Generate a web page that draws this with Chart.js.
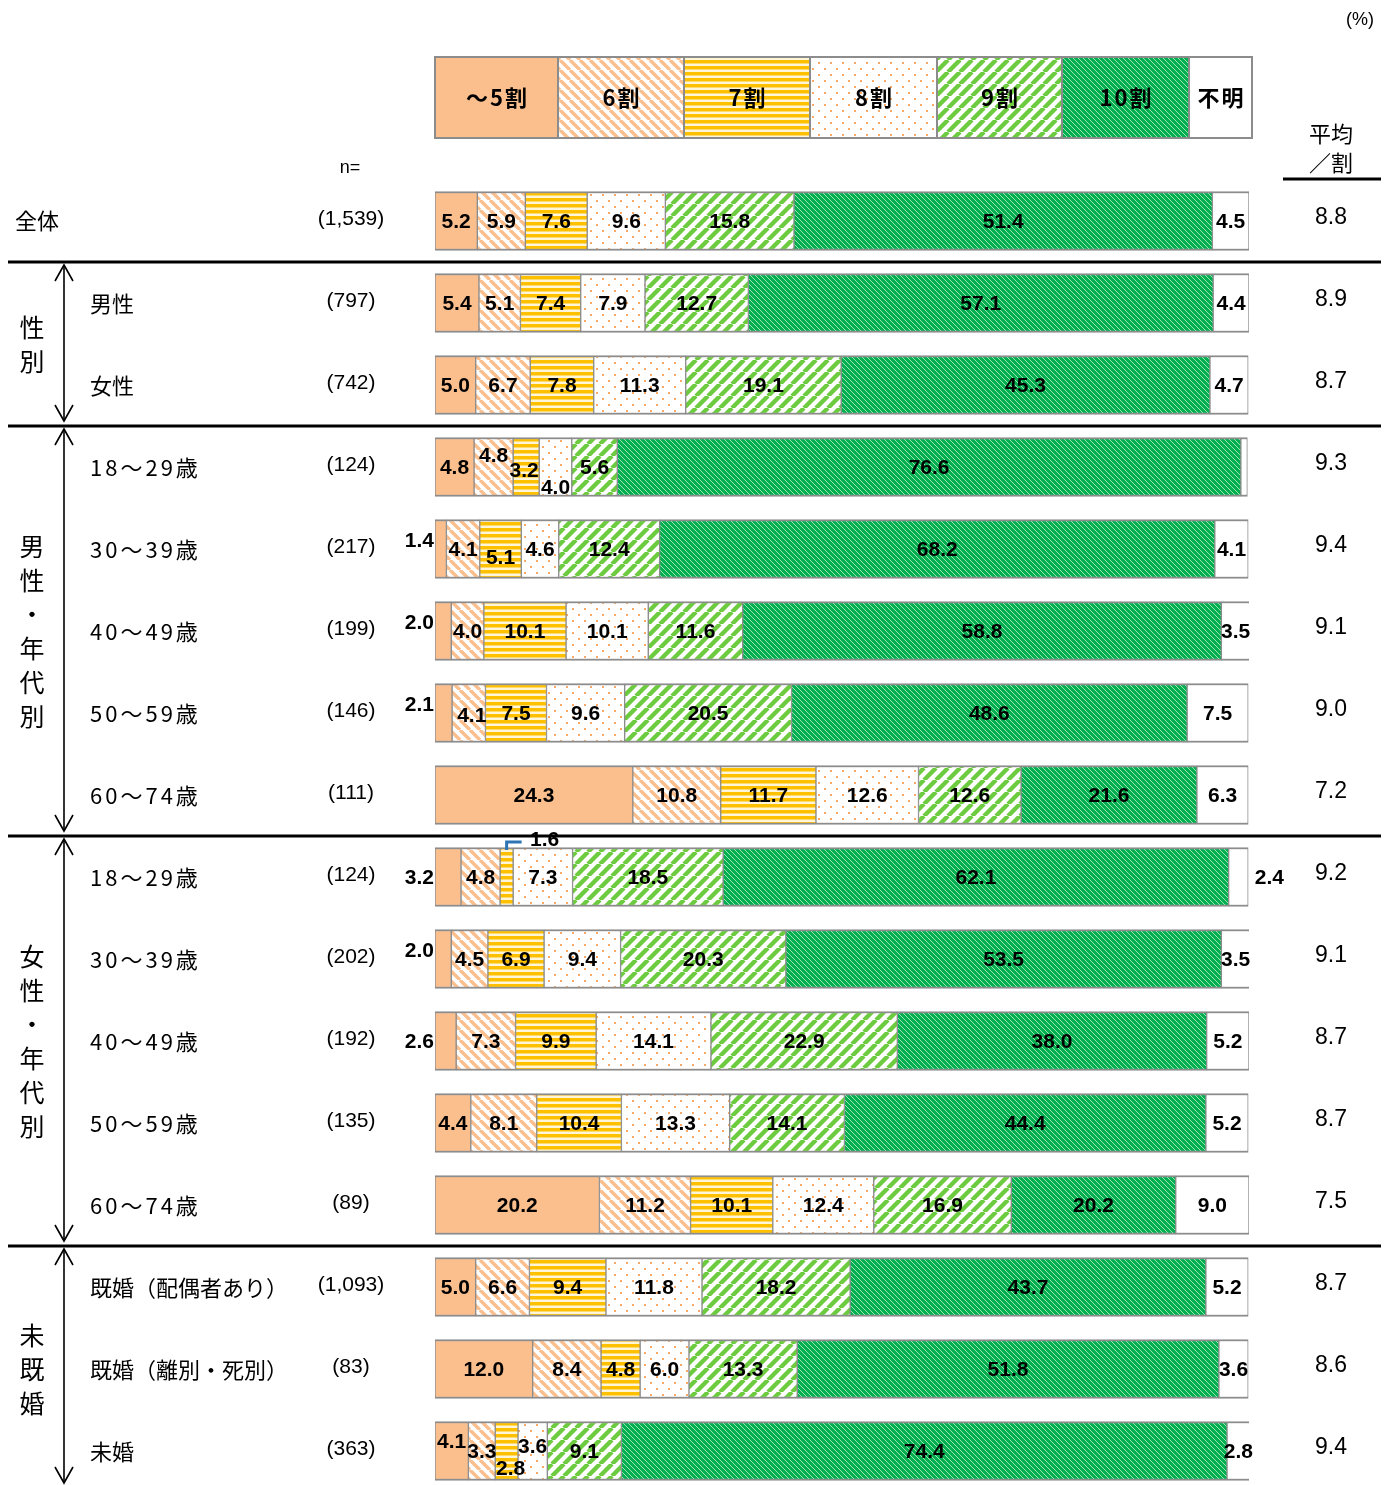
<!DOCTYPE html>
<html><head><meta charset="utf-8">
<script src="https://cdn.jsdelivr.net/npm/chart.js@4"></script>
<style>html,body{margin:0;padding:0;background:#fff;overflow:hidden;width:1392px;height:1485px}canvas{display:block}</style>
</head><body><canvas id="c" width="1392" height="1500"></canvas>
<script>
const categories = ['～5割','6割','7割','8割','9割','10割','不明'];
const rowLabels = ['全体','男性','女性','18～29歳','30～39歳','40～49歳','50～59歳','60～74歳','18～29歳','30～39歳','40～49歳','50～59歳','60～74歳','既婚（配偶者あり）','既婚（離別・死別）','未婚'];
const nLabels = ['(1,539)','(797)','(742)','(124)','(217)','(199)','(146)','(111)','(124)','(202)','(192)','(135)','(89)','(1,093)','(83)','(363)'];
const avgValues = ['8.8','8.9','8.7','9.3','9.4','9.1','9.0','7.2','9.2','9.1','8.7','8.7','7.5','8.7','8.6','9.4'];
const groupNames = ['性別','男性・年代別','女性・年代別','未既婚'];
const groupRows = [[1,2],[3,7],[8,12],[13,15]];

const seriesLe5  = [5.2,5.4,5.0,4.8,1.4,2.0,2.1,24.3,3.2,2.0,2.6,4.4,20.2,5.0,12.0,4.1];
const series6    = [5.9,5.1,6.7,4.8,4.1,4.0,4.1,10.8,4.8,4.5,7.3,8.1,11.2,6.6,8.4,3.3];
const series7    = [7.6,7.4,7.8,3.2,5.1,10.1,7.5,11.7,1.6,6.9,9.9,10.4,10.1,9.4,4.8,2.8];
const series8    = [9.6,7.9,11.3,4.0,4.6,10.1,9.6,12.6,7.3,9.4,14.1,13.3,12.4,11.8,6.0,3.6];
const series9    = [15.8,12.7,19.1,5.6,12.4,11.6,20.5,12.6,18.5,20.3,22.9,14.1,16.9,18.2,13.3,9.1];
const series10   = [51.4,57.1,45.3,76.6,68.2,58.8,48.6,21.6,62.1,53.5,38.0,44.4,20.2,43.7,51.8,74.4];
const seriesUnk  = [4.5,4.4,4.7,0.8,4.1,3.5,7.5,6.3,2.4,3.5,5.2,5.2,9.0,5.2,3.6,2.8];
const allSeries = [seriesLe5,series6,series7,series8,series9,series10,seriesUnk];

const canvas = document.getElementById('c');
const ctx = canvas.getContext('2d');

function mkPattern(w,h,draw){
  const c=document.createElement('canvas');c.width=w;c.height=h;
  const g=c.getContext('2d');draw(g,w,h);
  return ctx.createPattern(c,'repeat');
}
function diag(g,s,color,lw,dir){
  g.strokeStyle=color;g.lineWidth=lw;g.beginPath();
  for(const k of [-s,0,s]){
    if(dir==='\\'){g.moveTo(k,0);g.lineTo(k+s,s);}
    else{g.moveTo(k,s);g.lineTo(k+s,0);}
  }
  g.stroke();
}
const PEACH='#FBBF8E';
const patterns = [
  PEACH,
  mkPattern(10,10,(g,w,h)=>{g.fillStyle='#fff';g.fillRect(0,0,w,h);diag(g,10,PEACH,3.4,'\\');}),
  mkPattern(6,6,(g,w,h)=>{g.fillStyle='#FFF6DA';g.fillRect(0,0,w,h);g.fillStyle='#FFC000';g.fillRect(0,0,w,3.5);}),
  mkPattern(12,12,(g,w,h)=>{g.fillStyle='#fff';g.fillRect(0,0,w,h);g.fillStyle='#F8A968';g.fillRect(2,2,2,2);g.fillRect(8,8,2,2);}),
  mkPattern(12,12,(g,w,h)=>{g.fillStyle='#fff';g.fillRect(0,0,w,h);diag(g,12,'#6CCB3E',4.4,'/');}),
  mkPattern(5,5,(g,w,h)=>{g.fillStyle='#00B050';g.fillRect(0,0,w,h);diag(g,5,'#9FE3B5',1,'\\');}),
  '#ffffff'
];

const labelTweaks = {
 '3,1':{dy:-12}, '3,2':{dx:-2,dy:3}, '3,3':{dy:20}, '3,6':{hide:true},
 '4,0':{left:true,dy:-9}, '4,2':{dy:8},
 '5,0':{left:true,dy:-9},
 '6,0':{left:true,dy:-9}, '6,1':{dx:3,dy:2},
 '8,0':{left:true}, '8,2':{leader:true}, '8,6':{dx:31},
 '9,0':{left:true,dy:-9},
 '10,0':{left:true},
 '15,0':{dy:-10}, '15,2':{dx:4,dy:17}, '15,3':{dy:-5}
};

const JP='"Noto Sans CJK JP","Noto Sans",sans-serif';
const LAT='"Liberation Sans",Arial,sans-serif';

const overlay = {
  id:'overlay',
  afterDatasetsDraw(chart){
    const g=chart.ctx; const ys=chart.scales.y;
    g.save();
    g.font='bold 21px '+LAT; g.fillStyle='#000'; g.textBaseline='middle';
    chart.data.datasets.forEach((ds,di)=>{
      const meta=chart.getDatasetMeta(di);
      meta.data.forEach((el,ri)=>{
        const v=ds.data[ri]; const t=labelTweaks[ri+','+di]||{};
        if(t.hide) return;
        const txt=v.toFixed(1);
        const cx=(el.x+el.base)/2; const cy=el.y;
        if(t.left){
          g.textAlign='right'; g.fillText(txt, el.base-1+(t.dx||0), cy+1+(t.dy||0));
        } else if(t.leader){
          g.strokeStyle='#2E75B6'; g.lineWidth=3; g.beginPath();
          g.moveTo(cx, cy-27); g.lineTo(cx, cy-35); g.lineTo(cx+15, cy-35); g.stroke();
          g.textAlign='center'; g.fillText(txt, cx+38, cy-37);
        } else {
          g.textAlign='center'; g.fillText(txt, cx+(t.dx||0), cy+1+(t.dy||0));
        }
      });
    });
    rowLabels.forEach((lab,i)=>{
      const y=ys.getPixelForValue(i);
      g.fillStyle='#000'; g.textBaseline='middle';
      g.font='22px '+JP; g.textAlign='left';
      if(i===0){ g.fillText(lab,15,y); }
      else {
        if(/\d/.test(lab)){ g.letterSpacing='3px'; }
        g.fillText(lab,90,y+1); g.letterSpacing='0px';
      }
      g.font='21px '+LAT; g.textAlign='center';
      g.fillText(nLabels[i],351,y-2);
      g.font='23px '+LAT;
      g.fillText(avgValues[i],1331,y-3);
    });
    g.strokeStyle='#000'; g.lineWidth=3;
    [0,2,7,12].forEach(i=>{
      const y=(ys.getPixelForValue(i)+ys.getPixelForValue(i+1))/2;
      g.beginPath(); g.moveTo(8,y); g.lineTo(1381,y); g.stroke();
    });
    groupRows.forEach(([a,b],gi)=>{
      const half=(ys.getPixelForValue(1)-ys.getPixelForValue(0))/2;
      const top=ys.getPixelForValue(a)-half+3;
      let bot=ys.getPixelForValue(b)+half-5;
      if(bot>chart.height-16) bot=1483;
      const x=64;
      g.strokeStyle='#000'; g.lineWidth=1.6;
      g.beginPath(); g.moveTo(x,top); g.lineTo(x,bot); g.stroke();
      g.beginPath(); g.moveTo(x-9,top+16); g.lineTo(x,top); g.lineTo(x+9,top+16); g.stroke();
      g.beginPath(); g.moveTo(x-9,bot-16); g.lineTo(x,bot); g.lineTo(x+9,bot-16); g.stroke();
      const chars=[...groupNames[gi]]; const cy=(ys.getPixelForValue(a)+ys.getPixelForValue(b))/2;
      g.font='25px '+JP; g.textAlign='center'; g.textBaseline='middle'; g.fillStyle='#000';
      chars.forEach((ch,k)=>{ g.fillText(ch,32,cy+(k-(chars.length-1)/2)*34); });
    });
    const edges=[435,558,684,810,937,1062,1189,1252];
    for(let k=0;k<7;k++){
      g.fillStyle=patterns[k]; g.fillRect(edges[k],57,edges[k+1]-edges[k],81);
      g.strokeStyle='#8c8c8c'; g.lineWidth=2; g.strokeRect(edges[k],57,edges[k+1]-edges[k],81);
      g.fillStyle='#000'; g.font='bold 22px '+JP; g.textAlign='center'; g.textBaseline='middle';
      g.letterSpacing='2px';
      g.fillText(categories[k],(edges[k]+edges[k+1])/2+1,98);
      g.letterSpacing='0px';
    }
    g.font='18px '+LAT; g.textAlign='center'; g.fillStyle='#000';
    g.fillText('(%)',1360,20);
    g.fillText('n=',350,168);
    g.font='22px '+JP;
    g.fillText('平均',1331,134);
    g.fillText('／割',1331,163);
    g.lineWidth=3; g.strokeStyle='#000';
    g.beginPath(); g.moveTo(1283,179); g.lineTo(1381,179); g.stroke();
    g.restore();
  }
};

new Chart(ctx,{
  type:'bar',
  data:{labels:rowLabels,datasets:allSeries.map((d,i)=>({label:categories[i],data:d,backgroundColor:patterns[i],borderColor:'#8c8c8c',borderWidth:{top:2,bottom:2,left:1,right:1},borderSkipped:false,barThickness:59}))},
  options:{indexAxis:'y',responsive:false,animation:false,events:[],
    layout:{padding:{left:435,right:143,top:180,bottom:8}},
    scales:{x:{stacked:true,min:0,max:100,display:false},y:{stacked:true,display:false}},
    plugins:{legend:{display:false},tooltip:{enabled:false}}},
  plugins:[overlay]
});
</script></body></html>
